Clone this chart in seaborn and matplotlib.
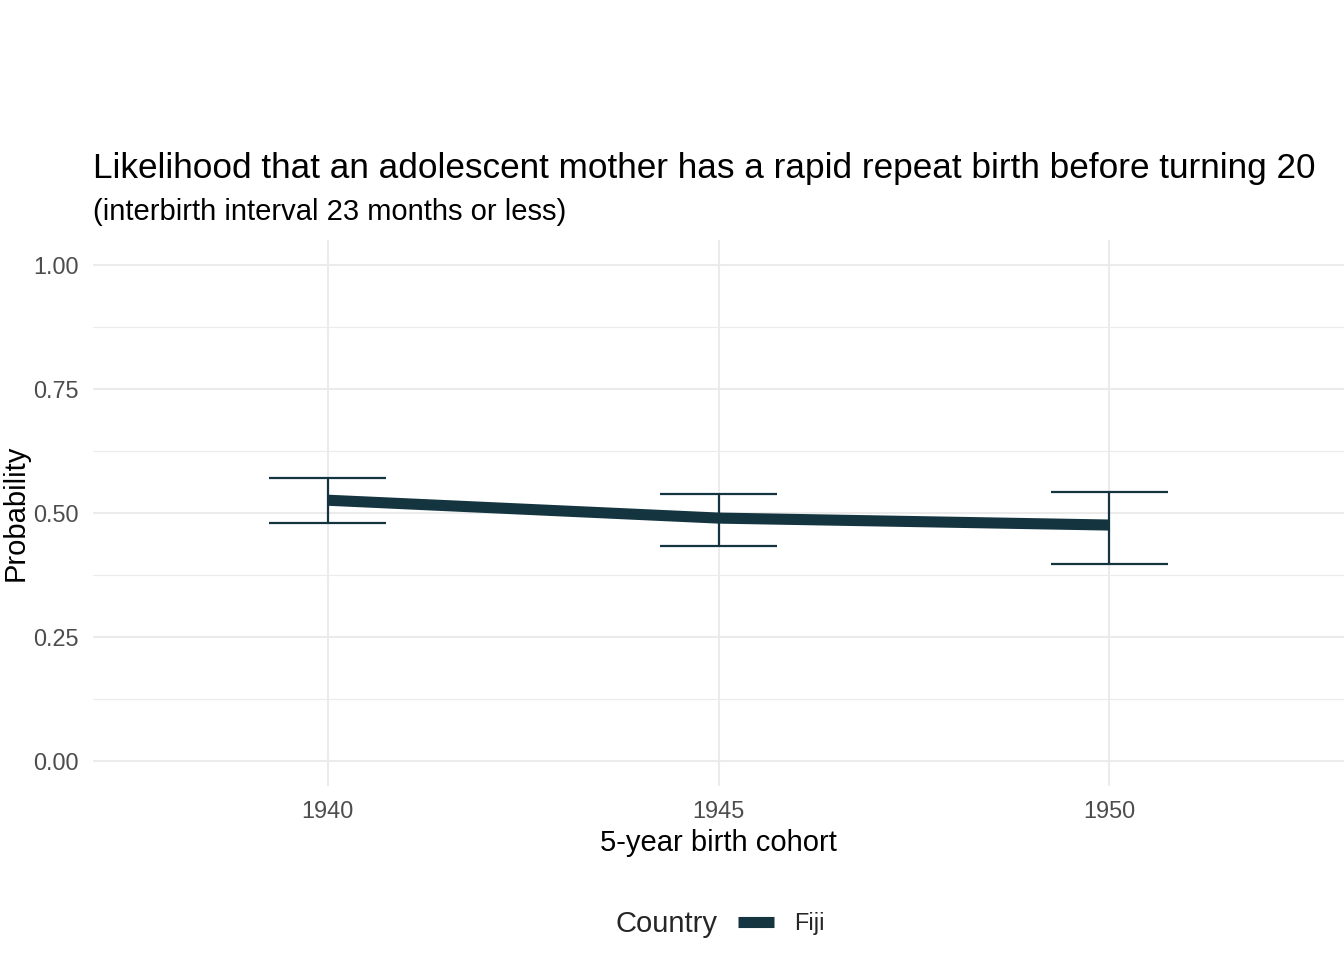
import matplotlib
matplotlib.use("Agg")
import matplotlib.pyplot as plt
import seaborn as sns
import pandas as pd

# data
cohorts = [1940, 1945, 1950]
country = ["Fiji", "Fiji", "Fiji"]
prob = [0.526, 0.490, 0.476]
prob_low = [0.480, 0.433, 0.397]
prob_high = [0.571, 0.538, 0.542]
y_ticks = [0.0, 0.25, 0.5, 0.75, 1.0]
y_tick_labels = ["0.00", "0.25", "0.50", "0.75", "1.00"]

line_color = "#143540"
grid_color = "#EBEBEB"

df = pd.DataFrame({"cohort": cohorts, "Country": country, "prob": prob,
                   "low": prob_low, "high": prob_high})

sns.set_theme(style="white")
plt.rcParams["font.family"] = ["Liberation Sans", "DejaVu Sans"]

fig = plt.figure(figsize=(13.44, 9.6), dpi=100)
ax = fig.add_axes([0.0692, 0.181, 0.9308, 0.569])

# error bars (vertical + caps in data units)
cap = 0.75
ax.vlines(df["cohort"], df["low"], df["high"], color=line_color, lw=1.6, zorder=3)
ax.hlines(df["low"], df["cohort"] - cap, df["cohort"] + cap, color=line_color, lw=1.6, zorder=3)
ax.hlines(df["high"], df["cohort"] - cap, df["cohort"] + cap, color=line_color, lw=1.6, zorder=3)

sns.lineplot(data=df, x="cohort", y="prob", hue="Country", palette=[line_color],
             linewidth=8, ax=ax, legend=True, zorder=4)
for ln in ax.get_lines():
    ln.set_solid_capstyle("butt")

ax.set_xlim(1937, 1953)
ax.set_ylim(-0.05, 1.05)
ax.set_xticks(cohorts)
ax.set_xticklabels([str(c) for c in cohorts])
ax.set_yticks(y_ticks)
ax.set_yticklabels(y_tick_labels)
ax.set_yticks([0.125, 0.375, 0.625, 0.875], minor=True)

ax.grid(True, which="major", color=grid_color, lw=1.5)
ax.grid(True, which="minor", axis="y", color=grid_color, lw=0.8)
ax.set_axisbelow(True)
for s in ax.spines.values():
    s.set_visible(False)
ax.tick_params(axis="both", which="both", length=0, labelsize=16.9, colors="#4D4D4D", pad=10)

ax.set_xlabel("5-year birth cohort", fontsize=21, color="black", labelpad=4)
ax.set_ylabel("Probability", fontsize=21, color="black", labelpad=3)

fig.text(0.0692, 0.815, "Likelihood that an adolescent mother has a rapid repeat birth before turning 20",
         fontsize=25.3, color="black", ha="left", va="baseline")
fig.text(0.0692, 0.771, "(interbirth interval 23 months or less)",
         fontsize=21, color="black", ha="left", va="baseline")

# legend at bottom: "Country" title placed to the left of the key
handles, labels = ax.get_legend_handles_labels()
ax.get_legend().remove()
fig.text(0.5335, 0.038, "Country", fontsize=21, ha="right", va="center")
leg = fig.legend(handles, labels, loc="center left", bbox_to_anchor=(0.549, 0.038),
                 frameon=False, fontsize=16.9, handlelength=1.55, handletextpad=0.85,
                 borderaxespad=0, borderpad=0)
for h in leg.get_lines():
    h.set_linewidth(8)
    h.set_solid_capstyle("butt")

fig.savefig("out.png", dpi=100)
